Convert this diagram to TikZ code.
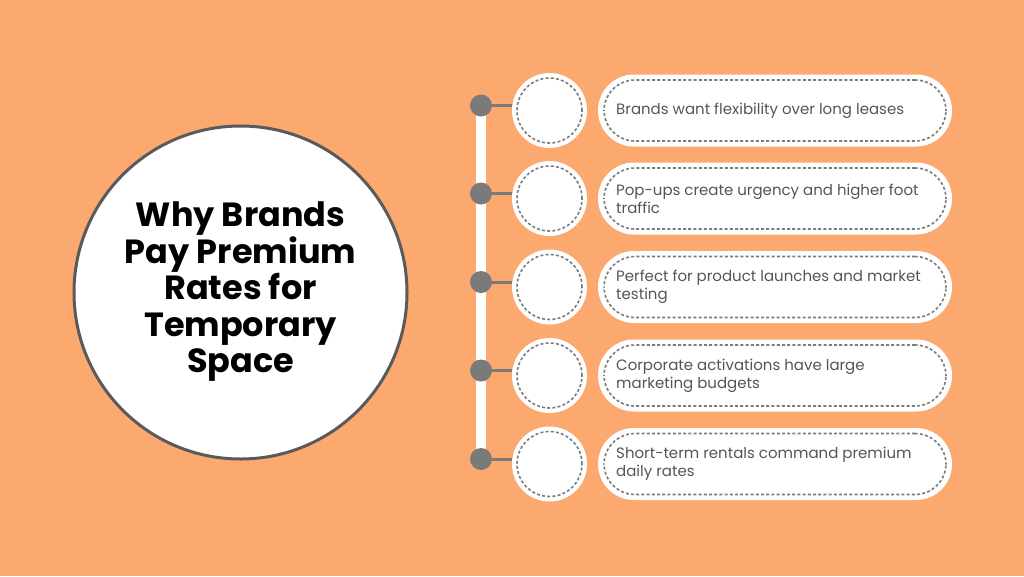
\documentclass[tikz,border=0pt]{standalone}
\usepackage{fontspec}
\setmainfont{Poppins}
\definecolor{bgor}{HTML}{FCA970}
\definecolor{dotgray}{HTML}{7A7A7A}
\definecolor{dashgray}{HTML}{7C7C7C}
\definecolor{txtgray}{HTML}{555555}
\definecolor{ringgray}{HTML}{5A5A5A}
\tikzset{
  px/.style={x=1pt,y=-1pt},
  pill/.style={draw=none,fill=white,rounded corners=36pt,minimum width=354pt,minimum height=72pt,inner sep=0pt},
  pillin/.style={draw=dashgray,dash pattern=on 3pt off 2.2pt,line width=1.6pt,rounded corners=31pt,minimum width=342pt,minimum height=61pt,inner sep=0pt,fill=none},
  smallc/.style={circle,fill=white,minimum size=75pt,inner sep=0pt},
  smallin/.style={circle,draw=dashgray,dash pattern=on 3pt off 2.2pt,line width=1.6pt,minimum size=65pt,inner sep=0pt},
  gdot/.style={circle,fill=dotgray,minimum size=22pt,inner sep=0pt},
  itemtxt/.style={anchor=west,align=left,font=\fontsize{15}{18}\selectfont,text=txtgray,inner sep=0pt},
  conn/.style={draw=dotgray,line width=3pt},
}
\begin{document}
\begin{tikzpicture}[px]
\fill[bgor] (0,0) rectangle (1024,576);
\useasboundingbox (0,0) rectangle (1024,576);
\node[circle,fill=white,draw=ringgray,line width=3pt,minimum size=333pt,inner sep=0pt] (main) at (240.5,292.5) {};
\node[align=center,font=\fontsize{33.5}{36.5}\selectfont\bfseries] (title) at (240.5,292) {Why Brands\\Pay Premium\\Rates for\\Temporary\\Space};
\coordinate (top) at (481,105);
\coordinate (bot) at (481,461);
\draw[white,line width=10pt] (top) -- (bot);
\foreach \i/\y/\t in {1/110.5/{Brands want flexibility over long leases},
                       2/198.5/{Pop-ups create urgency and higher foot\\traffic},
                       3/287/{Perfect for product launches and market\\testing},
                       4/375.5/{Corporate activations have large\\marketing budgets},
                       5/464/{Short-term rentals command premium\\daily rates}}{
  \node[pill] (p\i) at (775,\y) {};
  \node[pillin] (pi\i) at (775,\y) {};
  \node[smallc] (c\i) at (549.5,\y) {};
  \node[smallin] (ci\i) at (549.5,\y) {};
  \coordinate (k\i) at (481,\y-5);
  \draw[conn] (k\i) -- (c\i.west |- k\i);
  \node[gdot] (d\i) at (k\i) {};
  \node[itemtxt] (t\i) at (616,\y) {\t};
}
\end{tikzpicture}
\end{document}
